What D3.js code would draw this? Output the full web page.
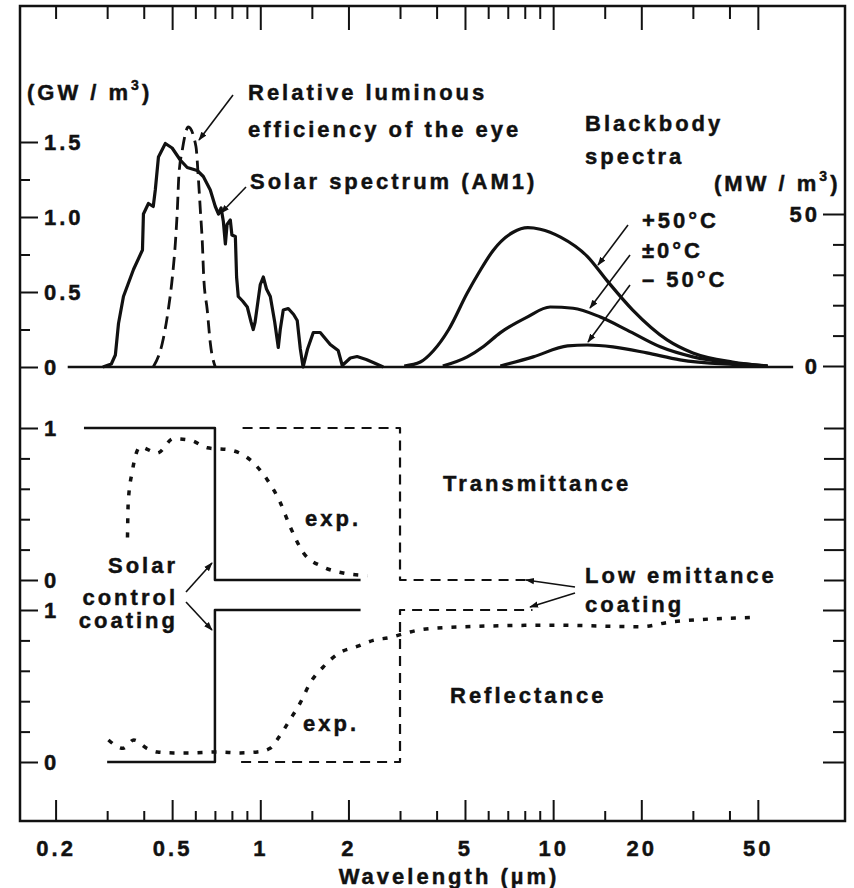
<!DOCTYPE html>
<html lang="en">
<head>
<meta charset="utf-8">
<title>Solar and blackbody spectra with coating transmittance</title>
<script src="https://cdn.jsdelivr.net/npm/d3@7"></script>
<style>
  body { margin: 0; background: #fff; }
  svg text { font-family: "Liberation Sans", Arial, sans-serif; font-weight: bold; fill: #111;
    stroke: #111; stroke-width: 0.45px; letter-spacing: 3px; }
</style>
</head>
<body>
<div id="chart"></div>
<script>
// ---- data ----
// solar spectrum AM1, [wavelength um, GW/m3]
var solarSpectrum = [[0.29,0],[0.31,0.02],[0.32,0.08],[0.328,0.29],[0.341,0.47],[0.369,0.65],[0.396,0.78],
  [0.399,1.02],[0.415,1.09],[0.431,1.07],[0.438,1.18],[0.449,1.40],[0.474,1.49],[0.50,1.46],[0.533,1.38],
  [0.563,1.33],[0.609,1.31],[0.639,1.27],[0.675,1.18],[0.702,1.07],[0.72,1.02],[0.735,1.06],[0.748,0.97],
  [0.76,0.82],[0.77,0.95],[0.79,0.98],[0.80,0.88],[0.822,0.87],[0.83,0.6],[0.841,0.47],[0.87,0.44],
  [0.903,0.40],[0.93,0.30],[0.946,0.25],[0.96,0.30],[1.0,0.55],[1.024,0.60],[1.05,0.52],[1.082,0.47],
  [1.12,0.30],[1.152,0.13],[1.17,0.25],[1.198,0.38],[1.246,0.39],[1.30,0.35],[1.337,0.31],[1.37,0.12],
  [1.40,0.0],[1.45,0.12],[1.517,0.23],[1.602,0.23],[1.733,0.15],[1.845,0.11],[1.905,0.01],[2.03,0.06],
  [2.14,0.07],[2.3,0.05],[2.43,0.03],[2.63,0]];
// relative luminous efficiency of the eye (plotted against left axis)
var eyeEfficiency = [[0.431,0],[0.463,0.16],[0.485,0.38],[0.501,0.60],[0.513,0.83],[0.521,1.05],[0.527,1.27],
  [0.542,1.45],[0.568,1.6],[0.603,1.47],[0.614,1.27],[0.624,1.05],[0.634,0.83],[0.641,0.6],[0.659,0.38],
  [0.675,0.16],[0.702,0]];
// blackbody spectra, [wavelength um, MW/m3]
var bbPlus50 = [[3.1,0],[3.52,1.3],[3.9,5],[4.4,12],[5.09,24],[5.6,31],[6.24,38],[7.3,44],[8.2,45.5],[9.03,45],
  [10.6,42.4],[13.1,36],[15.3,28],[18.7,18.4],[24.5,8.6],[30,4.3],[41,1.3],[54,0]];
var bbZero = [[4.2,0],[5.09,3],[5.8,6.5],[6.59,10.9],[8.15,16.1],[9.77,19.4],[11.7,19],[14.5,16.1],[17.9,11.8],
  [23.2,6.3],[30,3],[41,1],[54,0]];
var bbMinus50 = [[6.6,0],[8.55,3],[11.2,6.6],[13.1,6.9],[16.0,6.3],[20.9,4.3],[27.1,2],[41,0.5],[54,0]];
// ideal coatings
var solarControlT = [[0.25,1],[0.7,1],[0.7,0],[2.2,0]];
var solarControlR = [[0.3,0],[0.7,0],[0.7,1],[2.2,1]];
var lowEmitT = [[0.87,1],[3,1],[3,0],[8.5,0]];
var lowEmitR = [[0.86,0],[3,0],[3,1],[8.5,1]];
// experimental curves
var expT = [[0.352,0.28],[0.354,0.51],[0.366,0.72],[0.389,0.875],[0.445,0.835],[0.505,0.93],[0.577,0.92],
  [0.659,0.87],[0.79,0.855],[0.924,0.79],[1.056,0.66],[1.17,0.51],[1.265,0.35],[1.403,0.18],[1.64,0.086],
  [1.92,0.046],[2.32,0.03]];
var expR = [[0.303,0.145],[0.34,0.09],[0.37,0.145],[0.41,0.09],[0.445,0.066],[0.505,0.06],[0.577,0.06],
  [0.713,0.066],[0.855,0.06],[0.977,0.066],[1.08,0.09],[1.14,0.145],[1.265,0.28],[1.37,0.39],[1.48,0.52],
  [1.64,0.625],[1.87,0.72],[2.14,0.76],[2.43,0.8],[2.78,0.82],[3.17,0.85],[3.52,0.87],[5,0.89],[10,0.9],
  [20,0.89],[25,0.92],[47,0.95]];

// ticks and labels
var xMajor = [0.2, 0.5, 1, 2, 5, 10, 20, 50];
var xLabels = ["0.2", "0.5", "1", "2", "5", "10", "20", "50"];
var xMinor = [0.3, 0.4, 0.6, 0.7, 0.8, 0.9, 1.5, 3, 4, 6, 7, 8, 9, 15, 30, 40];
var gwMajor = [0, 0.5, 1.0, 1.5], gwLabels = ["0", "0.5", "1.0", "1.5"];
var gwMinor = [0.25, 0.75, 1.25];
var mwMajor = [0, 50], mwMinor = [10, 20, 30, 40];
var fracMajor = [0, 1], fracMinor = [0.2, 0.4, 0.6, 0.8];

// ---- layout ----
var W = 854, H = 888;
var L = 20, R = 845, T = 6, B = 821;

var svg = d3.select("#chart").append("svg")
  .attr("width", W).attr("height", H);

svg.append("defs").append("marker")
  .attr("id", "arrow").attr("viewBox", "0 0 10 10")
  .attr("refX", 9).attr("refY", 5)
  .attr("markerWidth", 9).attr("markerHeight", 9)
  .attr("markerUnits", "userSpaceOnUse")
  .attr("orient", "auto")
  .append("path").attr("d", "M0,1.5 L10,5 L0,8.5 Z").attr("fill", "#111");

var x = d3.scaleLog().domain([0.15, 100]).range([19, 846]);
var yGW = d3.scaleLinear().domain([0, 1.5]).range([367, 142]);
var yMW = d3.scaleLinear().domain([0, 50]).range([366, 214]);
var yT = d3.scaleLinear().domain([0, 1]).range([580, 428]);
var yR = d3.scaleLinear().domain([0, 1]).range([762, 610]);

function clean(g) { g.select(".domain").remove(); g.selectAll("line").attr("stroke", "#111").attr("stroke-width", 2); }

// frame
svg.append("rect").attr("x", L).attr("y", T).attr("width", R - L).attr("height", B - T)
  .attr("fill", "none").attr("stroke", "#111").attr("stroke-width", 2.5);

// bottom axis: ticks point up, labels outside
svg.append("g").attr("transform", "translate(0," + B + ")")
  .call(d3.axisTop(x).tickValues(xMajor).tickSize(21).tickFormat("")).call(clean);
svg.append("g").attr("transform", "translate(0," + B + ")")
  .call(d3.axisTop(x).tickValues(xMinor).tickSize(10).tickFormat("")).call(clean);
svg.append("g").attr("transform", "translate(0," + B + ")")
  .call(d3.axisBottom(x).tickValues(xMajor).tickSize(0).tickPadding(19)
    .tickFormat(function(d, i) { return xLabels[i]; }))
  .call(clean)
  .selectAll("text").attr("font-size", 22).attr("fill", "#111");

// top axis: ticks hang down
svg.append("g").attr("transform", "translate(0," + T + ")")
  .call(d3.axisBottom(x).tickValues(xMajor.slice(1)).tickSize(24).tickFormat("")).call(clean);
svg.append("g").attr("transform", "translate(0," + T + ")")
  .call(d3.axisBottom(x).tickValues([0.2].concat(xMinor)).tickSize(13).tickFormat("")).call(clean);

// left axes
function leftAxis(scale, major, labels, minor) {
  svg.append("g").attr("transform", "translate(" + L + ",0)")
    .call(d3.axisRight(scale).tickValues(major).tickSize(18).tickPadding(6)
      .tickFormat(function(d, i) { return labels[i]; }))
    .call(clean)
    .selectAll("text").attr("font-size", 22).attr("fill", "#111");
  svg.append("g").attr("transform", "translate(" + L + ",0)")
    .call(d3.axisRight(scale).tickValues(minor).tickSize(10).tickFormat("")).call(clean);
}
leftAxis(yGW, gwMajor, gwLabels, gwMinor);
leftAxis(yT, fracMajor, ["0", "1"], fracMinor);
leftAxis(yR, fracMajor, ["0", "1"], fracMinor);

// right axes
svg.append("g").attr("transform", "translate(" + R + ",0)")
  .call(d3.axisLeft(yMW).tickValues(mwMajor).tickSize(22).tickPadding(3)
    .tickFormat(function(d) { return d; }))
  .call(clean)
  .selectAll("text").attr("font-size", 22).attr("fill", "#111");
svg.append("g").attr("transform", "translate(" + R + ",0)")
  .call(d3.axisLeft(yMW).tickValues(mwMinor).tickSize(12).tickFormat("")).call(clean);
svg.append("g").attr("transform", "translate(" + R + ",0)")
  .call(d3.axisLeft(yT).tickValues(fracMajor.concat(fracMinor)).tickSize(21).tickFormat("")).call(clean);
svg.append("g").attr("transform", "translate(" + R + ",0)")
  .call(d3.axisLeft(yR).tickValues(fracMajor).tickSize(22).tickFormat("")).call(clean);
svg.append("g").attr("transform", "translate(" + R + ",0)")
  .call(d3.axisLeft(yR).tickValues(fracMinor).tickSize(12).tickFormat("")).call(clean);

// baseline of upper panel
svg.append("line")
  .attr("x1", x(0.22)).attr("x2", x(66)).attr("y1", yGW(0)).attr("y2", yGW(0))
  .attr("stroke", "#111").attr("stroke-width", 2.5);

// ---- curves ----
function draw(data, ys, curve, width, dash) {
  var line = d3.line().x(function(d) { return x(d[0]); }).y(function(d) { return ys(d[1]); }).curve(curve);
  svg.append("path").datum(data).attr("d", line)
    .attr("fill", "none").attr("stroke", "#111").attr("stroke-width", width)
    .attr("stroke-linejoin", "round")
    .attr("stroke-dasharray", dash || null);
}
draw(solarSpectrum, yGW, d3.curveLinear, 3.2);
draw(eyeEfficiency, yGW, d3.curveMonotoneX, 2.8, "13,7");
draw(bbPlus50, yMW, d3.curveMonotoneX, 3.2);
draw(bbZero, yMW, d3.curveMonotoneX, 3.2);
draw(bbMinus50, yMW, d3.curveMonotoneX, 3.2);

draw(solarControlT, yT, d3.curveLinear, 2.5);
draw(solarControlR, yR, d3.curveLinear, 2.5);
draw(lowEmitT, yT, d3.curveLinear, 2.2, "10,7");
draw(lowEmitR, yR, d3.curveLinear, 2.2, "10,7");
draw(expT, yT, d3.curveMonotoneX, 3.5, "5,9");
draw(expR, yR, d3.curveMonotoneX, 3.5, "5,9");

// ---- labels and arrows ----
function label(txt, px, py, anchor) {
  return svg.append("text").attr("x", px).attr("y", py).attr("font-size", 22)
    .attr("text-anchor", anchor || "start").text(txt);
}
function arrow(x1, y1, x2, y2) {
  svg.append("line").attr("x1", x1).attr("y1", y1).attr("x2", x2).attr("y2", y2)
    .attr("stroke", "#111").attr("stroke-width", 1.6).attr("marker-end", "url(#arrow)");
}
function unit(txt, px, py) {
  var t = label("", px, py);
  t.append("tspan").text("(" + txt + " / m");
  t.append("tspan").attr("font-size", 14).attr("dy", -10).text("3");
  t.append("tspan").attr("dy", 10).text(")");
}
unit("GW", 27, 100);
unit("MW", 714, 191);

label("Relative luminous", 248, 100);
label("efficiency of the eye", 248, 137);
arrow(233, 95, 199, 140);
label("Solar spectrum (AM1)", 250, 189);
arrow(246, 187, 221, 213);
label("Blackbody", 585, 131);
label("spectra", 585, 164);
label("+50°C", 642, 228);
label("±0°C", 642, 258);
label("– 50°C", 642, 287);
arrow(628, 225, 598, 265);
arrow(630, 255, 590, 308);
arrow(630, 285, 588, 342);

label("Transmittance", 443, 491);
label("Reflectance", 450, 703);
label("exp.", 305, 526);
label("exp.", 303, 731);
label("Solar", 178, 573, "end");
label("control", 178, 605, "end");
label("coating", 178, 628, "end");
arrow(186, 592, 212, 563);
arrow(186, 602, 212, 630);
label("Low emittance", 585, 583);
label("coating", 585, 612);
arrow(575, 587, 526, 580);
arrow(575, 593, 530, 607);

label("Wavelength (\u00b5m)", 449, 884, "middle");
</script>
</body>
</html>
